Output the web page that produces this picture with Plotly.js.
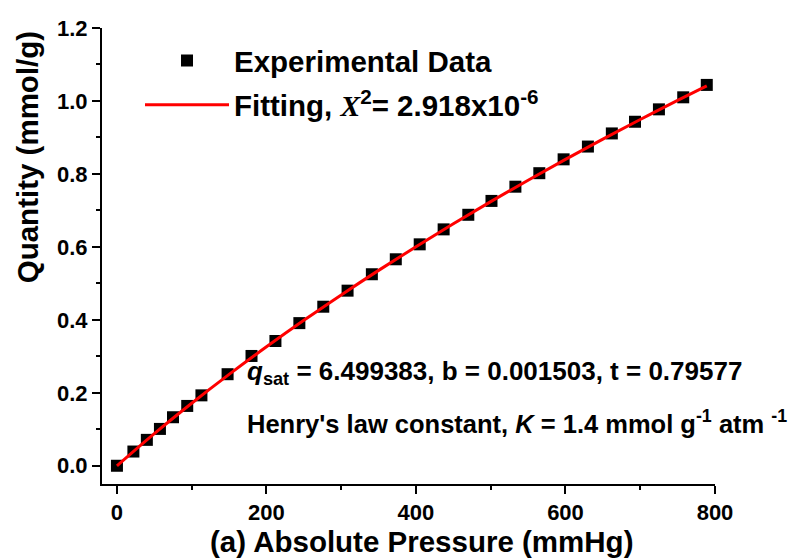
<!DOCTYPE html>
<html>
<head>
<meta charset="utf-8">
<script src="https://cdn.plot.ly/plotly-3.0.1.min.js"></script>
<style>
  html, body { margin: 0; padding: 0; background: #fff; }
  #chart { width: 804px; height: 560px; }
</style>
</head>
<body>
<div id="chart"></div>
<script>
// CO2 adsorption isotherm: measured uptake vs. absolute pressure
const pressure = [0, 22, 40, 57.5, 75, 94, 113, 148, 180, 212, 244, 276, 308.5, 341,
                  373, 405, 437, 470, 501, 533, 565, 597.5, 630, 662, 693, 725, 757.5, 789];
const quantity = [0, 0.039, 0.071, 0.101, 0.133, 0.164, 0.193, 0.251, 0.301, 0.342, 0.391,
                  0.436, 0.480, 0.525, 0.566, 0.607, 0.648, 0.688, 0.726, 0.765, 0.802,
                  0.840, 0.875, 0.911, 0.943, 0.977, 1.010, 1.044];

// Toth fit curve (qsat = 6.499383, b = 0.001503, t = 0.79577), sampled
const fitPressure = [0, 50, 100, 150, 200, 250, 300, 350, 400, 450, 500, 550, 600, 650, 700, 750, 789];
const fitQuantity = [0, 0.0883, 0.1715, 0.2506, 0.3261, 0.3987, 0.4684, 0.5356, 0.6005,
                     0.6632, 0.7240, 0.7828, 0.8399, 0.8954, 0.9492, 1.0016, 1.0415];

const xTicks = [0, 200, 400, 600, 800];
const yTicks = [0.0, 0.2, 0.4, 0.6, 0.8, 1.0, 1.2];

const FONT = 'Liberation Sans, Arial, sans-serif';

const traces = [
  {
    x: pressure, y: quantity,
    type: 'scatter', mode: 'markers',
    name: 'Experimental Data', legendgroup: 'data',
    marker: { symbol: 'square', size: 12, color: '#000000' }
  },
  {
    x: fitPressure, y: fitQuantity,
    type: 'scatter', mode: 'lines', legendgroup: 'fit',
    name: "Fitting, <i><span style=\"font-family:'Liberation Serif', 'Times New Roman', serif\">X</span></i><sup>2</sup>= 2.918x10<sup>-6</sup>",
    line: { color: '#ff0000', width: 3, shape: 'spline' }
  }
];

const axisCommon = {
  showline: true, linecolor: '#000', linewidth: 2,
  showgrid: false, zeroline: false,
  ticks: 'outside', ticklen: 8, tickwidth: 2, tickcolor: '#000',
  tickfont: { family: FONT, size: 22, color: '#000', weight: 'bold' }
};

const layout = {
  width: 804, height: 560,
  paper_bgcolor: '#fff', plot_bgcolor: '#fff',
  margin: { l: 102, r: 89, t: 28, b: 76 },
  showlegend: true,
  legend: {
    x: 0.062, y: 0.985, xanchor: 'left', yanchor: 'top',
    bgcolor: 'rgba(0,0,0,0)', borderwidth: 0,
    itemwidth: 84, traceorder: 'grouped', tracegroupgap: 3,
    font: { family: FONT, size: 29.5, color: '#000', weight: 'bold' }
  },
  xaxis: Object.assign({}, axisCommon, {
    range: [-20, 800],
    tickmode: 'array', tickvals: xTicks, ticktext: xTicks.map(String),
    minor: { ticks: 'outside', ticklen: 4, tickwidth: 2, tickcolor: '#000', dtick: 100, tick0: 0 }
  }),
  yaxis: Object.assign({}, axisCommon, {
    range: [-0.05, 1.2],
    tickmode: 'array', tickvals: yTicks, ticktext: yTicks.map(v => v.toFixed(1)),
    minor: { ticks: 'outside', ticklen: 4, tickwidth: 2, tickcolor: '#000', dtick: 0.1, tick0: 0 }
  }),
  annotations: [
    {
      text: '(a) Absolute Pressure (mmHg)',
      xref: 'paper', yref: 'paper', x: 0.522, y: -0.125,
      xanchor: 'center', yanchor: 'middle', showarrow: false,
      font: { family: FONT, size: 29.5, color: '#000', weight: 'bold' }
    },
    {
      text: 'Quantity (mmol/g)', textangle: -90,
      xref: 'paper', yref: 'paper', x: -0.122, y: 0.717,
      xanchor: 'center', yanchor: 'middle', showarrow: false,
      font: { family: FONT, size: 29.5, color: '#000', weight: 'bold' }
    },
    {
      text: '<i>q</i><sub>sat</sub> = 6.499383, b = 0.001503, t = 0.79577',
      xref: 'paper', yref: 'paper', x: 0.233, y: 0.245,
      xanchor: 'left', yanchor: 'middle', showarrow: false,
      font: { family: FONT, size: 26, color: '#000', weight: 'bold' }
    },
    {
      text: "Henry's law constant, <i>K</i> = 1.4 mmol g<sup>-1</sup> atm <sup>-1</sup>",
      xref: 'paper', yref: 'paper', x: 0.233, y: 0.135,
      xanchor: 'left', yanchor: 'middle', showarrow: false,
      font: { family: FONT, size: 25.5, color: '#000', weight: 'bold' }
    }
  ]
};

Plotly.newPlot('chart', traces, layout, { displayModeBar: false, staticPlot: true });
</script>
</body>
</html>
